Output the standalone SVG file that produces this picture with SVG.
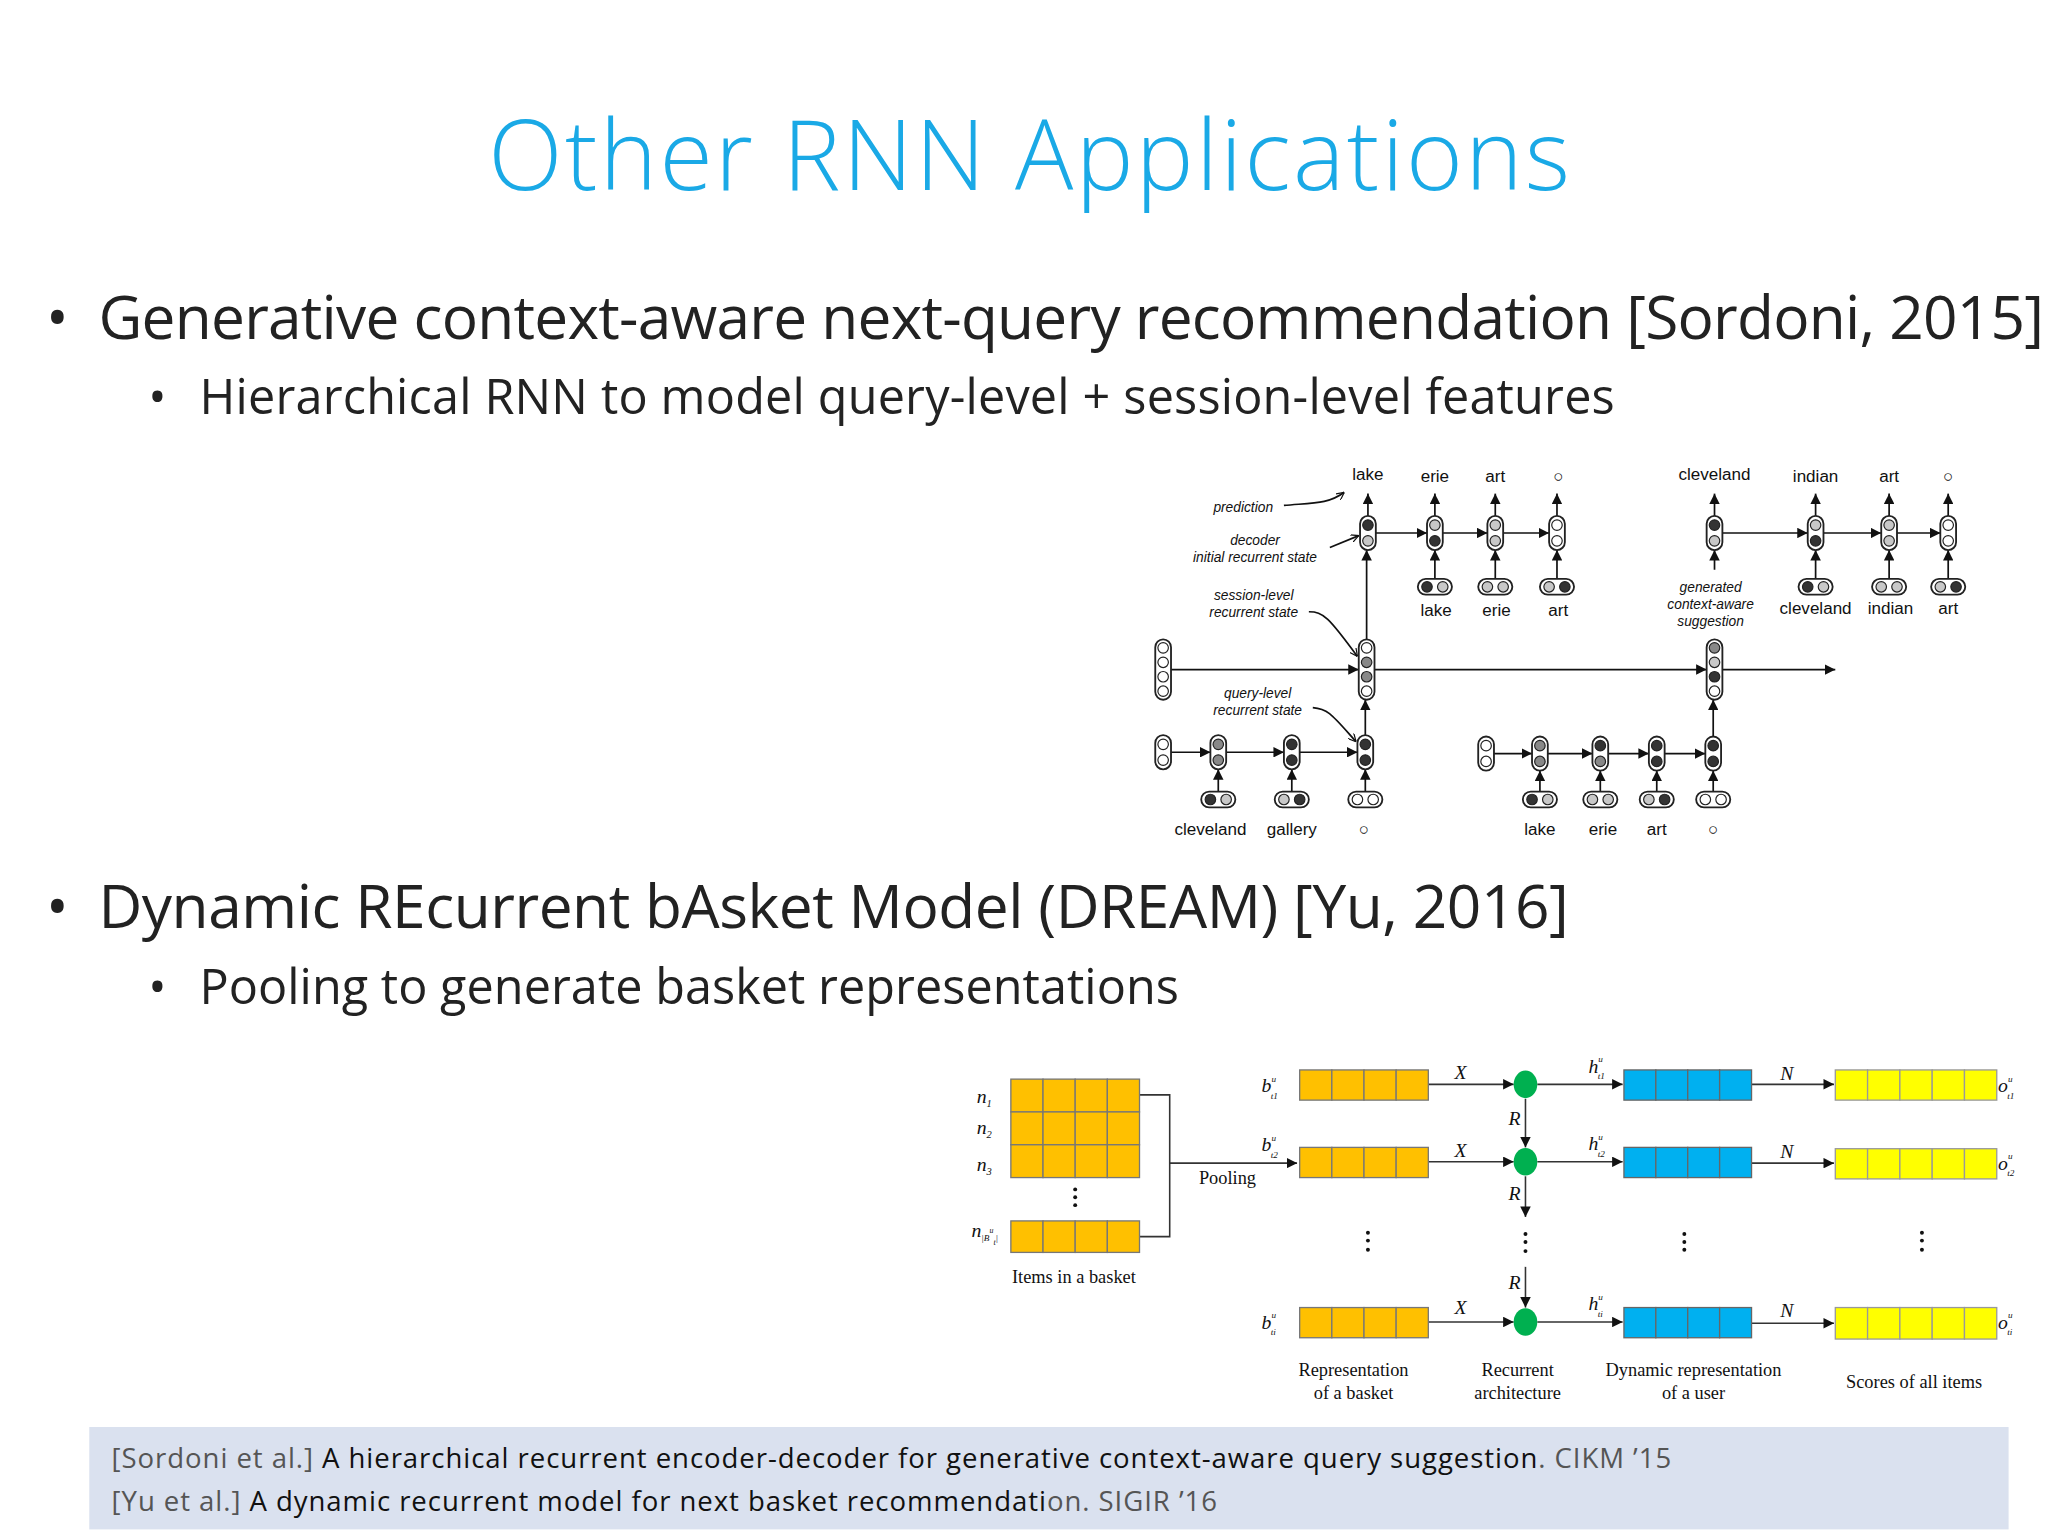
<svg xmlns="http://www.w3.org/2000/svg" width="2048" height="1536" viewBox="0 0 2048 1536">
<defs>
<marker id="a" viewBox="0 0 10 10" refX="10" refY="5" markerWidth="8" markerHeight="8" markerUnits="userSpaceOnUse" orient="auto"><path d="M0,0 L10,5 L0,10 z" fill="#111"/></marker>
<marker id="s" viewBox="0 0 10 10" refX="10" refY="5" markerWidth="6" markerHeight="6" markerUnits="userSpaceOnUse" orient="auto"><path d="M0,0 L10,5 L0,10" fill="none" stroke="#111" stroke-width="1.5"/></marker>
</defs>
<style>
.t{font-family:"Open Sans","DejaVu Sans",sans-serif;fill:#222}
.ttl{font-family:"Open Sans",sans-serif;font-weight:300;fill:#1aa9e6}
.d{font-family:"Liberation Sans",Arial,sans-serif;font-size:13px;fill:#111;text-anchor:middle}
.i{font-family:"Liberation Sans",Arial,sans-serif;font-size:10.5px;font-style:italic;fill:#111;text-anchor:middle}
.pl{fill:#fff;stroke:#222;stroke-width:1.4}
.c{stroke:#222;stroke-width:0.9}
.W{fill:#fff}.L{fill:#c8c8c8}.G{fill:#888}.D{fill:#333}
.ln{stroke:#111;stroke-width:1.3;fill:none}
.s{font-family:"Liberation Serif","Times New Roman",serif;font-size:14px;fill:#111;text-anchor:middle}
.m{font-family:"Liberation Serif","Times New Roman",serif;font-size:15px;font-style:italic;fill:#111}
.o{fill:#ffc000;stroke:#777;stroke-width:1}
.b{fill:#00b0f0;stroke:#666;stroke-width:1}
.y{fill:#ffff00;stroke:#999;stroke-width:1}
.g{fill:#00b050}
.bl{stroke:#333;stroke-width:1.2;fill:none}
.dt{fill:#111}
.eos{fill:none;stroke:#111;stroke-width:1}
</style>
<rect width="2048" height="1536" fill="#fff"/>
<g transform="scale(1.3128)">
<g id="text">
<text class="ttl" x="784" y="145" font-size="74" text-anchor="middle" textLength="824">Other RNN Applications</text>
<text class="t" x="35" y="258" font-size="46">•</text>
<text class="t" x="75" y="258" font-size="46" textLength="1482">Generative context-aware next-query recommendation [Sordoni, 2015]</text>
<text class="t" x="113" y="315" font-size="37">•</text>
<text class="t" x="152" y="315" font-size="37" textLength="1078">Hierarchical RNN to model query-level + session-level features</text>
<text class="t" x="35" y="707" font-size="46">•</text>
<text class="t" x="75" y="707" font-size="46" textLength="1120">Dynamic REcurrent bAsket Model (DREAM) [Yu, 2016]</text>
<text class="t" x="113" y="765" font-size="37">•</text>
<text class="t" x="152" y="765" font-size="37" textLength="746">Pooling to generate basket representations</text>
</g>
<g id="footer">
<rect x="68" y="1087" width="1462" height="78" fill="#dae1ef"/>
<text class="t" x="85" y="1118" font-size="21" textLength="1188"><tspan fill="#555">[Sordoni et al.] </tspan><tspan fill="#111">A hierarchical recurrent encoder-decoder for generative context-aware query suggestion</tspan><tspan fill="#555">. CIKM ’15</tspan></text>
<text class="t" x="85" y="1151" font-size="21" textLength="842"><tspan fill="#555">[Yu et al.] </tspan><tspan fill="#111">A dynamic recurrent model for next basket recommendati</tspan><tspan fill="#555">on. SIGIR ’16</tspan></text>
</g>

<g id="hred-connectors">
<path class="ln" marker-end="url(#a)" d="M1042,393V376"/><path class="ln" marker-end="url(#a)" d="M1093,393V376"/><path class="ln" marker-end="url(#a)" d="M1139,393V376"/><path class="ln" marker-end="url(#a)" d="M1186,393V376"/>
<path class="ln" marker-end="url(#a)" d="M1048,406H1087"/><path class="ln" marker-end="url(#a)" d="M1099,406H1133"/><path class="ln" marker-end="url(#a)" d="M1145,406H1180"/>
<path class="ln" marker-end="url(#a)" d="M1093,441V419"/><path class="ln" marker-end="url(#a)" d="M1139,441V419"/><path class="ln" marker-end="url(#a)" d="M1186,441V419"/>
<path class="ln" marker-end="url(#a)" d="M1306,393V376"/><path class="ln" marker-end="url(#a)" d="M1383,393V376"/><path class="ln" marker-end="url(#a)" d="M1439,393V376"/><path class="ln" marker-end="url(#a)" d="M1484,393V376"/>
<path class="ln" marker-end="url(#a)" d="M1312,406H1377"/><path class="ln" marker-end="url(#a)" d="M1389,406H1433"/><path class="ln" marker-end="url(#a)" d="M1445,406H1478"/>
<path class="ln" marker-end="url(#a)" d="M1383,441V419"/><path class="ln" marker-end="url(#a)" d="M1439,441V419"/><path class="ln" marker-end="url(#a)" d="M1484,441V419"/>
<path class="ln" marker-end="url(#a)" d="M892,510H1035"/><path class="ln" marker-end="url(#a)" d="M1047,510H1300"/><path class="ln" marker-end="url(#a)" d="M1312,510H1398"/>
<path class="ln" marker-end="url(#a)" d="M1041,487V419"/><path class="ln" marker-end="url(#a)" d="M1306,434V419"/>
<path class="ln" marker-end="url(#a)" d="M892,573H922"/><path class="ln" marker-end="url(#a)" d="M934,573H978"/><path class="ln" marker-end="url(#a)" d="M990,573H1034"/>
<path class="ln" marker-end="url(#a)" d="M928,603V586"/><path class="ln" marker-end="url(#a)" d="M984,603V586"/><path class="ln" marker-end="url(#a)" d="M1040,603V586"/>
<path class="ln" marker-end="url(#a)" d="M1040,560V533"/><path class="ln" marker-end="url(#a)" d="M1305,561V533"/>
<path class="ln" marker-end="url(#a)" d="M1138,574H1167"/><path class="ln" marker-end="url(#a)" d="M1179,574H1213"/><path class="ln" marker-end="url(#a)" d="M1225,574H1256"/><path class="ln" marker-end="url(#a)" d="M1268,574H1299"/>
<path class="ln" marker-end="url(#a)" d="M1173,603V587"/><path class="ln" marker-end="url(#a)" d="M1219,603V587"/><path class="ln" marker-end="url(#a)" d="M1262,603V587"/><path class="ln" marker-end="url(#a)" d="M1305,603V587"/>
<path class="ln" marker-end="url(#s)" d="M978,385C1000,383 1012,384 1024,375"/>
<path class="ln" marker-end="url(#s)" d="M1013,417L1035,408"/>
<path class="ln" marker-end="url(#s)" d="M997,466C1008,466 1012,470 1034,500"/>
<path class="ln" marker-end="url(#s)" d="M1000,539C1012,540 1015,545 1033,565"/>
</g>

<g id="hred-nodes">
<rect class="pl" x="1036" y="393" width="12" height="26" rx="6"/><circle class="c D" cx="1042" cy="400" r="4"/><circle class="c L" cx="1042" cy="412" r="4"/>
<rect class="pl" x="1087" y="393" width="12" height="26" rx="6"/><circle class="c L" cx="1093" cy="400" r="4"/><circle class="c D" cx="1093" cy="412" r="4"/>
<rect class="pl" x="1133" y="393" width="12" height="26" rx="6"/><circle class="c L" cx="1139" cy="400" r="4"/><circle class="c L" cx="1139" cy="412" r="4"/>
<rect class="pl" x="1180" y="393" width="12" height="26" rx="6"/><circle class="c W" cx="1186" cy="400" r="4"/><circle class="c W" cx="1186" cy="412" r="4"/>
<rect class="pl" x="1080" y="441" width="26" height="12" rx="6"/><circle class="c D" cx="1087" cy="447" r="4"/><circle class="c L" cx="1099" cy="447" r="4"/>
<rect class="pl" x="1126" y="441" width="26" height="12" rx="6"/><circle class="c L" cx="1133" cy="447" r="4"/><circle class="c L" cx="1145" cy="447" r="4"/>
<rect class="pl" x="1173" y="441" width="26" height="12" rx="6"/><circle class="c L" cx="1180" cy="447" r="4"/><circle class="c D" cx="1192" cy="447" r="4"/>
<rect class="pl" x="1300" y="393" width="12" height="26" rx="6"/><circle class="c D" cx="1306" cy="400" r="4"/><circle class="c L" cx="1306" cy="412" r="4"/>
<rect class="pl" x="1377" y="393" width="12" height="26" rx="6"/><circle class="c L" cx="1383" cy="400" r="4"/><circle class="c D" cx="1383" cy="412" r="4"/>
<rect class="pl" x="1433" y="393" width="12" height="26" rx="6"/><circle class="c L" cx="1439" cy="400" r="4"/><circle class="c L" cx="1439" cy="412" r="4"/>
<rect class="pl" x="1478" y="393" width="12" height="26" rx="6"/><circle class="c W" cx="1484" cy="400" r="4"/><circle class="c W" cx="1484" cy="412" r="4"/>
<rect class="pl" x="1370" y="441" width="26" height="12" rx="6"/><circle class="c D" cx="1377" cy="447" r="4"/><circle class="c L" cx="1389" cy="447" r="4"/>
<rect class="pl" x="1426" y="441" width="26" height="12" rx="6"/><circle class="c L" cx="1433" cy="447" r="4"/><circle class="c L" cx="1445" cy="447" r="4"/>
<rect class="pl" x="1471" y="441" width="26" height="12" rx="6"/><circle class="c L" cx="1478" cy="447" r="4"/><circle class="c D" cx="1490" cy="447" r="4"/>
<rect class="pl" x="880" y="487" width="12" height="46" rx="6"/><circle class="c W" cx="886" cy="493.5" r="4"/><circle class="c W" cx="886" cy="504.5" r="4"/><circle class="c W" cx="886" cy="515.5" r="4"/><circle class="c W" cx="886" cy="526.5" r="4"/>
<rect class="pl" x="1035" y="487" width="12" height="46" rx="6"/><circle class="c W" cx="1041" cy="493.5" r="4"/><circle class="c G" cx="1041" cy="504.5" r="4"/><circle class="c G" cx="1041" cy="515.5" r="4"/><circle class="c W" cx="1041" cy="526.5" r="4"/>
<rect class="pl" x="1300" y="487" width="12" height="46" rx="6"/><circle class="c G" cx="1306" cy="493.5" r="4"/><circle class="c L" cx="1306" cy="504.5" r="4"/><circle class="c D" cx="1306" cy="515.5" r="4"/><circle class="c W" cx="1306" cy="526.5" r="4"/>
<rect class="pl" x="880" y="560" width="12" height="26" rx="6"/><circle class="c W" cx="886" cy="567" r="4"/><circle class="c W" cx="886" cy="579" r="4"/>
<rect class="pl" x="922" y="560" width="12" height="26" rx="6"/><circle class="c G" cx="928" cy="567" r="4"/><circle class="c G" cx="928" cy="579" r="4"/>
<rect class="pl" x="978" y="560" width="12" height="26" rx="6"/><circle class="c D" cx="984" cy="567" r="4"/><circle class="c D" cx="984" cy="579" r="4"/>
<rect class="pl" x="1034" y="560" width="12" height="26" rx="6"/><circle class="c D" cx="1040" cy="567" r="4"/><circle class="c D" cx="1040" cy="579" r="4"/>
<rect class="pl" x="915" y="603" width="26" height="12" rx="6"/><circle class="c D" cx="922" cy="609" r="4"/><circle class="c L" cx="934" cy="609" r="4"/>
<rect class="pl" x="971" y="603" width="26" height="12" rx="6"/><circle class="c L" cx="978" cy="609" r="4"/><circle class="c D" cx="990" cy="609" r="4"/>
<rect class="pl" x="1027" y="603" width="26" height="12" rx="6"/><circle class="c W" cx="1034" cy="609" r="4"/><circle class="c W" cx="1046" cy="609" r="4"/>
<rect class="pl" x="1126" y="561" width="12" height="26" rx="6"/><circle class="c W" cx="1132" cy="568" r="4"/><circle class="c W" cx="1132" cy="580" r="4"/>
<rect class="pl" x="1167" y="561" width="12" height="26" rx="6"/><circle class="c G" cx="1173" cy="568" r="4"/><circle class="c G" cx="1173" cy="580" r="4"/>
<rect class="pl" x="1213" y="561" width="12" height="26" rx="6"/><circle class="c D" cx="1219" cy="568" r="4"/><circle class="c G" cx="1219" cy="580" r="4"/>
<rect class="pl" x="1256" y="561" width="12" height="26" rx="6"/><circle class="c D" cx="1262" cy="568" r="4"/><circle class="c D" cx="1262" cy="580" r="4"/>
<rect class="pl" x="1299" y="561" width="12" height="26" rx="6"/><circle class="c D" cx="1305" cy="568" r="4"/><circle class="c D" cx="1305" cy="580" r="4"/>
<rect class="pl" x="1160" y="603" width="26" height="12" rx="6"/><circle class="c D" cx="1167" cy="609" r="4"/><circle class="c L" cx="1179" cy="609" r="4"/>
<rect class="pl" x="1206" y="603" width="26" height="12" rx="6"/><circle class="c L" cx="1213" cy="609" r="4"/><circle class="c L" cx="1225" cy="609" r="4"/>
<rect class="pl" x="1249" y="603" width="26" height="12" rx="6"/><circle class="c L" cx="1256" cy="609" r="4"/><circle class="c D" cx="1268" cy="609" r="4"/>
<rect class="pl" x="1292" y="603" width="26" height="12" rx="6"/><circle class="c W" cx="1299" cy="609" r="4"/><circle class="c W" cx="1311" cy="609" r="4"/>
</g>

<g id="hred-labels">
<text class="d" x="1042" y="366">lake</text><text class="d" x="1093" y="367">erie</text><text class="d" x="1139" y="367">art</text><text class="d" x="1187" y="367" font-size="17">○</text>
<text class="d" x="1094" y="469">lake</text><text class="d" x="1140" y="469">erie</text><text class="d" x="1187" y="469">art</text>
<text class="d" x="1306" y="366">cleveland</text><text class="d" x="1383" y="367">indian</text><text class="d" x="1439" y="367">art</text><text class="d" x="1484" y="367" font-size="17">○</text>
<text class="d" x="1383" y="468">cleveland</text><text class="d" x="1440" y="468">indian</text><text class="d" x="1484" y="468">art</text>
<text class="d" x="922" y="636">cleveland</text><text class="d" x="984" y="636">gallery</text><text class="d" x="1039" y="636" font-size="17">○</text>
<text class="d" x="1173" y="636">lake</text><text class="d" x="1221" y="636">erie</text><text class="d" x="1262" y="636">art</text><text class="d" x="1305" y="636" font-size="17">○</text>
<text class="i" x="947" y="390">prediction</text>
<text class="i" x="956" y="415">decoder</text><text class="i" x="956" y="428">initial recurrent state</text>
<text class="i" x="955" y="457">session-level</text><text class="i" x="955" y="470">recurrent state</text>
<text class="i" x="958" y="532">query-level</text><text class="i" x="958" y="545">recurrent state</text>
<text class="i" x="1303" y="451">generated</text><text class="i" x="1303" y="464">context-aware</text><text class="i" x="1303" y="477">suggestion</text>
</g>

<g id="dream-connectors">
<path class="bl" d="M868,834H891V942H868"/>
<path class="bl" marker-end="url(#a)" d="M891,886H988"/>
<path class="bl" marker-end="url(#a)" d="M1088,826H1153"/><path class="bl" marker-end="url(#a)" d="M1088,885H1153"/><path class="bl" marker-end="url(#a)" d="M1088,1007H1153"/>
<path class="bl" marker-end="url(#a)" d="M1171,826H1236"/><path class="bl" marker-end="url(#a)" d="M1171,885H1236"/><path class="bl" marker-end="url(#a)" d="M1171,1007H1236"/>
<path class="bl" marker-end="url(#a)" d="M1334,826H1397"/><path class="bl" marker-end="url(#a)" d="M1334,886H1397"/><path class="bl" marker-end="url(#a)" d="M1334,1008H1397"/>
<path class="bl" marker-end="url(#a)" d="M1162,837V874"/><path class="bl" marker-end="url(#a)" d="M1162,896V927"/><path class="bl" marker-end="url(#a)" d="M1162,965V996"/>
</g>

<g id="dream-nodes">
<g id="items">
<rect class="o" x="770" y="822" width="24.5" height="25"/><rect class="o" x="794.5" y="822" width="24.5" height="25"/><rect class="o" x="819" y="822" width="24.5" height="25"/><rect class="o" x="843.5" y="822" width="24.5" height="25"/>
<rect class="o" x="770" y="847" width="24.5" height="25"/><rect class="o" x="794.5" y="847" width="24.5" height="25"/><rect class="o" x="819" y="847" width="24.5" height="25"/><rect class="o" x="843.5" y="847" width="24.5" height="25"/>
<rect class="o" x="770" y="872" width="24.5" height="25"/><rect class="o" x="794.5" y="872" width="24.5" height="25"/><rect class="o" x="819" y="872" width="24.5" height="25"/><rect class="o" x="843.5" y="872" width="24.5" height="25"/>
<rect class="o" x="770" y="930" width="24.5" height="24"/><rect class="o" x="794.5" y="930" width="24.5" height="24"/><rect class="o" x="819" y="930" width="24.5" height="24"/><rect class="o" x="843.5" y="930" width="24.5" height="24"/>
<circle class="dt" cx="819" cy="906" r="1.5"/><circle class="dt" cx="819" cy="912" r="1.5"/><circle class="dt" cx="819" cy="918" r="1.5"/>
</g>
<g id="baskets">
<rect class="o" x="990" y="815" width="24.5" height="23"/><rect class="o" x="1014.5" y="815" width="24.5" height="23"/><rect class="o" x="1039" y="815" width="24.5" height="23"/><rect class="o" x="1063.5" y="815" width="24.5" height="23"/>
<rect class="o" x="990" y="874" width="24.5" height="23"/><rect class="o" x="1014.5" y="874" width="24.5" height="23"/><rect class="o" x="1039" y="874" width="24.5" height="23"/><rect class="o" x="1063.5" y="874" width="24.5" height="23"/>
<rect class="o" x="990" y="996" width="24.5" height="23"/><rect class="o" x="1014.5" y="996" width="24.5" height="23"/><rect class="o" x="1039" y="996" width="24.5" height="23"/><rect class="o" x="1063.5" y="996" width="24.5" height="23"/>
</g>
<g id="rnn">
<ellipse class="g" cx="1162" cy="826" rx="9" ry="10.5"/><ellipse class="g" cx="1162" cy="885" rx="9" ry="10.5"/><ellipse class="g" cx="1162" cy="1007" rx="9" ry="10.5"/>
</g>
<g id="users">
<rect class="b" x="1237" y="815" width="24.3" height="23"/><rect class="b" x="1261.3" y="815" width="24.3" height="23"/><rect class="b" x="1285.6" y="815" width="24.3" height="23"/><rect class="b" x="1309.9" y="815" width="24.3" height="23"/>
<rect class="b" x="1237" y="874" width="24.3" height="23"/><rect class="b" x="1261.3" y="874" width="24.3" height="23"/><rect class="b" x="1285.6" y="874" width="24.3" height="23"/><rect class="b" x="1309.9" y="874" width="24.3" height="23"/>
<rect class="b" x="1237" y="996" width="24.3" height="23"/><rect class="b" x="1261.3" y="996" width="24.3" height="23"/><rect class="b" x="1285.6" y="996" width="24.3" height="23"/><rect class="b" x="1309.9" y="996" width="24.3" height="23"/>
</g>
<g id="scores">
<rect class="y" x="1398" y="815" width="24.6" height="23"/><rect class="y" x="1422.6" y="815" width="24.6" height="23"/><rect class="y" x="1447.2" y="815" width="24.6" height="23"/><rect class="y" x="1471.8" y="815" width="24.6" height="23"/><rect class="y" x="1496.4" y="815" width="24.6" height="23"/>
<rect class="y" x="1398" y="875" width="24.6" height="23"/><rect class="y" x="1422.6" y="875" width="24.6" height="23"/><rect class="y" x="1447.2" y="875" width="24.6" height="23"/><rect class="y" x="1471.8" y="875" width="24.6" height="23"/><rect class="y" x="1496.4" y="875" width="24.6" height="23"/>
<rect class="y" x="1398" y="996" width="24.6" height="24"/><rect class="y" x="1422.6" y="996" width="24.6" height="24"/><rect class="y" x="1447.2" y="996" width="24.6" height="24"/><rect class="y" x="1471.8" y="996" width="24.6" height="24"/><rect class="y" x="1496.4" y="996" width="24.6" height="24"/>
</g>
<g id="dots">
<circle class="dt" cx="1042" cy="939" r="1.5"/><circle class="dt" cx="1042" cy="945" r="1.5"/><circle class="dt" cx="1042" cy="952" r="1.5"/>
<circle class="dt" cx="1162" cy="940" r="1.5"/><circle class="dt" cx="1162" cy="946" r="1.5"/><circle class="dt" cx="1162" cy="953" r="1.5"/>
<circle class="dt" cx="1283" cy="940" r="1.5"/><circle class="dt" cx="1283" cy="946" r="1.5"/><circle class="dt" cx="1283" cy="952" r="1.5"/>
<circle class="dt" cx="1464" cy="939" r="1.5"/><circle class="dt" cx="1464" cy="945" r="1.5"/><circle class="dt" cx="1464" cy="952" r="1.5"/>
</g>
</g>

<g id="dream-labels">
<text class="m" x="744" y="840">n<tspan font-size="8" dy="3">1</tspan></text>
<text class="m" x="744" y="864">n<tspan font-size="8" dy="3">2</tspan></text>
<text class="m" x="744" y="892">n<tspan font-size="8" dy="3">3</tspan></text>
<text class="m" x="740" y="942">n<tspan font-size="7" dy="3">|B</tspan><tspan font-size="6" dy="-6">u</tspan><tspan font-size="6" dy="9">t</tspan><tspan font-size="7" dy="-3">|</tspan></text>
<text class="s" x="818" y="977">Items in a basket</text>
<text class="s" x="935" y="902">Pooling</text>
<text class="m" x="961" y="832">b<tspan font-size="7" dy="-8">u</tspan><tspan font-size="7" dx="-4" dy="13">t1</tspan></text>
<text class="m" x="961" y="877">b<tspan font-size="7" dy="-8">u</tspan><tspan font-size="7" dx="-4" dy="13">t2</tspan></text>
<text class="m" x="961" y="1012">b<tspan font-size="7" dy="-8">u</tspan><tspan font-size="7" dx="-4" dy="13">ti</tspan></text>
<text class="m" x="1108" y="822">X</text><text class="m" x="1108" y="881">X</text><text class="m" x="1108" y="1001">X</text>
<text class="m" x="1149" y="857">R</text><text class="m" x="1149" y="914">R</text><text class="m" x="1149" y="982">R</text>
<text class="m" x="1210" y="817">h<tspan font-size="7" dy="-8">u</tspan><tspan font-size="7" dx="-4" dy="13">t1</tspan></text>
<text class="m" x="1210" y="876">h<tspan font-size="7" dy="-8">u</tspan><tspan font-size="7" dx="-4" dy="13">t2</tspan></text>
<text class="m" x="1210" y="998">h<tspan font-size="7" dy="-8">u</tspan><tspan font-size="7" dx="-4" dy="13">ti</tspan></text>
<text class="m" x="1356" y="823">N</text><text class="m" x="1356" y="882">N</text><text class="m" x="1356" y="1003">N</text>
<text class="m" x="1522" y="832">o<tspan font-size="7" dy="-8">u</tspan><tspan font-size="7" dx="-4" dy="13">t1</tspan></text>
<text class="m" x="1522" y="891">o<tspan font-size="7" dy="-8">u</tspan><tspan font-size="7" dx="-4" dy="13">t2</tspan></text>
<text class="m" x="1522" y="1012">o<tspan font-size="7" dy="-8">u</tspan><tspan font-size="7" dx="-4" dy="13">ti</tspan></text>
<text class="s" x="1031" y="1048">Representation</text><text class="s" x="1031" y="1066">of a basket</text>
<text class="s" x="1156" y="1048">Recurrent</text><text class="s" x="1156" y="1066">architecture</text>
<text class="s" x="1290" y="1048">Dynamic representation</text><text class="s" x="1290" y="1066">of a user</text>
<text class="s" x="1458" y="1057">Scores of all items</text>
</g>
</g>
</svg>
